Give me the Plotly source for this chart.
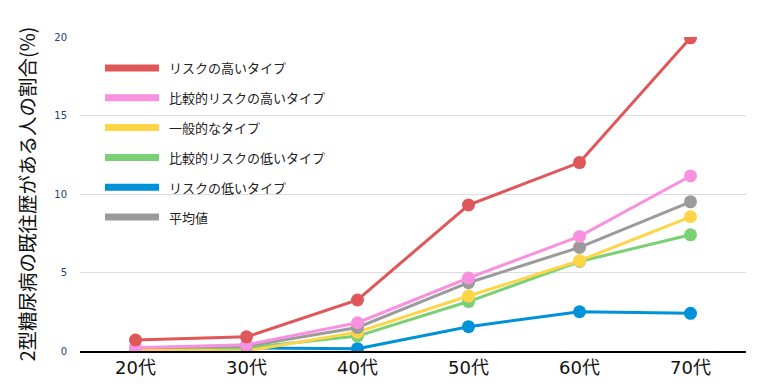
import plotly.graph_objects as go

categories = ["20代", "30代", "40代", "50代", "60代", "70代"]
series_names = ["リスクの高いタイプ", "比較的リスクの高いタイプ", "一般的なタイプ",
                "比較的リスクの低いタイプ", "リスクの低いタイプ", "平均値"]
high = [0.7, 0.9, 3.25, 9.3, 12.0, 19.95]
rel_high = [0.2, 0.4, 1.8, 4.65, 7.3, 11.15]
normal = [0.1, 0.0, 1.2, 3.5, 5.75, 8.55]
rel_low = [0.15, 0.2, 0.95, 3.15, 5.7, 7.4]
low = [0.0, 0.2, 0.15, 1.55, 2.5, 2.4]
average = [0.2, 0.3, 1.5, 4.35, 6.6, 9.5]
y_ticks = [0, 5, 10, 15, 20]

colors = ["#E0575A", "#F892E0", "#FFD447", "#7AD175", "#0092D8", "#9B9B9B"]
values = [high, rel_high, normal, rel_low, low, average]

OFF = 8  # page body margin
FIG_W, FIG_H = 762 - OFF, 388 - OFF

fig = go.Figure()
draw_order = [4, 3, 2, 5, 1, 0]
for i in draw_order:
    fig.add_trace(go.Scatter(
        x=categories, y=values[i], name=series_names[i], mode="lines+markers",
        line=dict(color=colors[i], width=3),
        marker=dict(color=colors[i], size=13),
        showlegend=False, hoverinfo="x+y+name"))

plot_top, plot_bottom = 37 - OFF, 351 - OFF
plot_left, plot_right = 80 - OFF, 746 - OFF
H = plot_bottom - plot_top
W = plot_right - plot_left
legend_y0 = 68 - OFF
legend_step = 29.8
for k in range(6):
    ypx = legend_y0 + k * legend_step
    yp = (plot_bottom - ypx) / H
    x0 = (105 - OFF - plot_left) / W
    x1 = (159 - OFF - plot_left) / W
    fig.add_shape(type="line", xref="paper", yref="paper", x0=x0, x1=x1, y0=yp, y1=yp,
                  line=dict(color=colors[k], width=7))
    fig.add_annotation(xref="paper", yref="paper", x=(167 - OFF - plot_left) / W, y=yp,
                       text=series_names[k], showarrow=False, xanchor="left", yanchor="middle",
                       font=dict(size=13, color="#222222", family="Noto Sans CJK JP"))

fig.update_layout(
    width=FIG_W, height=FIG_H,
    margin=dict(l=plot_left, r=FIG_W - plot_right, t=plot_top, b=FIG_H - plot_bottom),
    plot_bgcolor="white", paper_bgcolor="white",
    font=dict(family="Noto Sans CJK JP"),
    xaxis=dict(range=[-0.5, 5.5], showgrid=False, showline=True, linecolor="black", linewidth=1.5,
               ticks="", automargin=False,
               tickfont=dict(size=18, color="#111111", family="DejaVu Sans, Noto Sans CJK JP"),
               zeroline=False),
    yaxis=dict(range=[0, 20], tickvals=y_ticks, showgrid=True, gridcolor="#DDDDDD", gridwidth=1,
               zeroline=False, showline=False, ticks="", ticklabelstandoff=12, automargin=False,
               tickfont=dict(size=10, color="#23407A", family="DejaVu Sans"),
               title=dict(text="2型糖尿病の既往歴がある人の割合(%)", standoff=13,
                          font=dict(size=19.5, color="#111111", family="Noto Sans CJK JP"))),
)
fig.write_html("out.html")
